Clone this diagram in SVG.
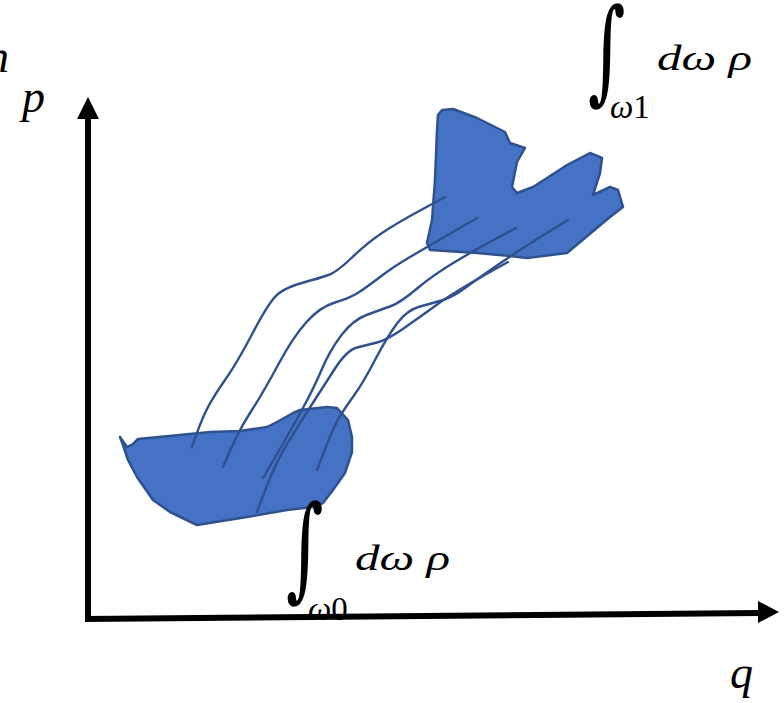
<svg xmlns="http://www.w3.org/2000/svg" width="784" height="703" viewBox="0 0 784 703">
<style>
.blob{fill:#4472C4;stroke:#2F528F;stroke-width:2.5;stroke-linejoin:round}
.traj{fill:none;stroke:#2F528F;stroke-width:2.4;stroke-linecap:round;stroke-linejoin:round}
.ax{stroke:#000;stroke-width:6;fill:none}
.m{font-family:"Liberation Serif","DejaVu Serif",serif;font-style:italic;fill:#000}
.int{font-family:"DejaVu Serif",serif;fill:#000}
.up{font-style:normal}
</style>
<rect width="784" height="703" fill="#fff"/>
<g id="axes">
<line class="ax" x1="88" y1="621" x2="88" y2="114"/>
<polygon points="88,97 77,119 99,119" fill="#000"/>
<line class="ax" x1="85" y1="619" x2="760" y2="613"/>
<polygon points="779,612 758,601 758,623" fill="#000"/>
</g>
<g id="region0">
<path class="blob" d="M120,437 L127,447 L133,444 L138,439 L200,433 L210,432 L240,431 L267,427 L277,422 L293,413 L300,410 L327,407 L337,408 L348,420 L352,437 L352,452 L345,473 L333,490 L323,503 L313,507 L287,510 L247,517 L197,525 L170,512 L153,500 L137,477 L128,460 L123,445 Z"/>
</g>
<g id="region1">
<path class="blob" d="M442,110 L453,109 L477,118 L505,132 L510,143 L525,148 L517,162 L512,187 L517,193 L533,187 L547,178 L567,165 L590,153 L602,158 L600,173 L593,195 L610,187 L618,190 L623,207 L610,217 L567,253 L527,258 L510,256 L477,253 L430,250 L427,243 L432,220 L435,180 L437,130 L438,115 Z"/>
</g>
<g id="trajectories">
<path class="traj" d="M192,447 Q200,423 206.5,410 Q213,397 225,380 Q237,363 253.5,331.5 Q270,300 278.5,293.5 Q287,287 303.5,282.5 Q320,278 328.5,275 Q337,272 352,257.5 Q367,243 382,233 Q397,223 421,210 L445,197"/>
<path class="traj" d="M223,467 Q237,433 250,413 Q263,393 278,365 Q293,337 306.5,322 Q320,307 335,302.5 Q350,298 358.5,292.5 Q367,287 380,277 Q393,267 410,257 Q427,247 452,232.5 L477,218"/>
<path class="traj" d="M263,478 Q287,437 300,413.5 Q313,390 321.5,370 Q330,350 341.5,335 Q353,320 366.5,315 Q380,310 390,306.5 Q400,303 416.5,289 Q433,275 456.5,261 Q480,247 516,228"/>
<path class="traj" d="M257,512 Q273,467 286.5,445 Q300,423 311.5,405 Q323,387 335,368.5 Q347,350 357,347.5 Q367,345 377,342.5 Q387,340 403.5,328.5 Q420,317 438.5,303.5 Q457,290 508,262"/>
<path class="traj" d="M317,470 Q333,427 340,416 Q347,405 355,394 Q363,383 375,360 Q387,337 397,323.5 Q407,310 420,306.5 Q433,303 443,300 Q453,297 466.5,287 Q480,277 505,260 Q530,243 568,220"/>
</g>
<g id="labels">
<text class="m" x="-14" y="72" font-size="46">n</text>
<text class="m" x="22" y="112" font-size="46">p</text>
<text class="m" x="730" y="688" font-size="46">q</text>
<text class="int" font-size="90" transform="translate(588,89) scale(0.8,1.26)">∫</text>
<text class="m" x="657" y="70" font-size="36" textLength="95" lengthAdjust="spacingAndGlyphs">dω ρ</text>
<text class="m" x="610" y="118" font-size="33">ω<tspan class="up">1</tspan></text>
<text class="int" font-size="90" transform="translate(286,586) scale(0.8,1.26)">∫</text>
<text class="m" x="355" y="570" font-size="36" textLength="95" lengthAdjust="spacingAndGlyphs">dω ρ</text>
<text class="m" x="308" y="620" font-size="33">ω<tspan class="up">0</tspan></text>
</g>
</svg>
